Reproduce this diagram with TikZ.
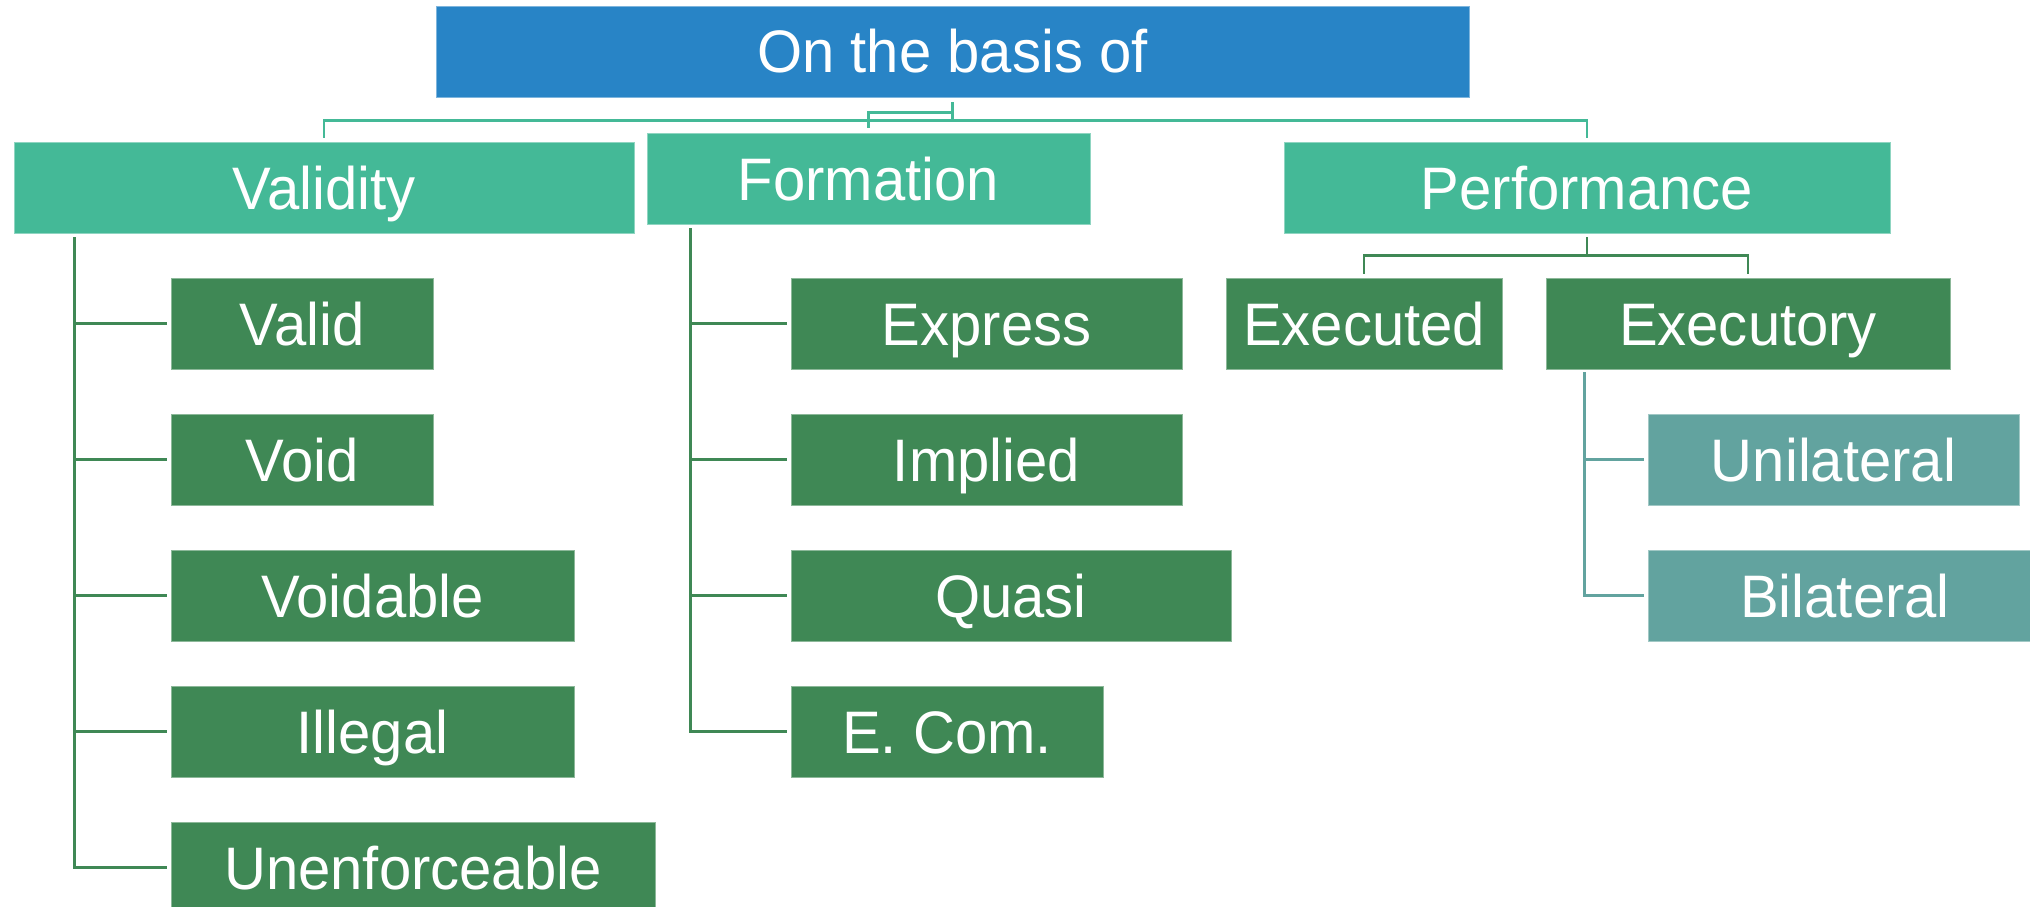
\documentclass[tikz,border=0pt]{standalone}
\usepackage{fontspec}
\setmainfont{Liberation Sans}[FakeStretch=0.967]
\definecolor{topcol}{RGB}{40,132,198}
\definecolor{lonecol}{RGB}{68,185,151}
\definecolor{ltwocol}{RGB}{63,136,85}
\definecolor{lthreecol}{RGB}{98,163,159}
\tikzset{
  box/.style={inner sep=0pt, minimum height=91pt, text height=43pt, text depth=0pt,
    text=white, font=\fontsize{60}{60}\selectfont, line width=0.8pt},
  topbox/.style={box, fill=topcol, draw=topcol!60!white},
  lonebox/.style={box, fill=lonecol, draw=lonecol!60!white},
  ltwobox/.style={box, fill=ltwocol, draw=ltwocol!60!white},
  lthreebox/.style={box, fill=lthreecol, draw=lthreecol!60!white},
  czero/.style={draw=lonecol, line width=2.6pt},
  cone/.style={draw=ltwocol, line width=2.6pt},
  ctwo/.style={draw=lthreecol, line width=2.6pt},
}
\begin{document}
\begin{tikzpicture}[x=1pt,y=-1pt]
\useasboundingbox (0,0) rectangle (2030,907);
\clip (0,0) rectangle (2030,907);
% level 0
\node[topbox, minimum width=1033pt] (top) at (952.5,51.5) {On the basis of};
% level 1
\node[lonebox, minimum width=620pt] (validity) at (324,187.5) {Validity};
\node[lonebox, minimum width=443pt] (formation) at (868.5,178.5) {Formation};
\node[lonebox, minimum width=606pt] (performance) at (1587,187.5) {Performance};
% validity children
\node[ltwobox, minimum width=262pt] (valid) at (302,323.5) {Valid};
\node[ltwobox, minimum width=262pt] (void) at (302,459.5) {Void};
\node[ltwobox, minimum width=403pt] (voidable) at (372.5,595.5) {Voidable};
\node[ltwobox, minimum width=403pt] (illegal) at (372.5,731.5) {Illegal};
\node[ltwobox, minimum width=484pt] (unenf) at (413,867.5) {Unenforceable};
% formation children
\node[ltwobox, minimum width=391pt] (express) at (986.5,323.5) {Express};
\node[ltwobox, minimum width=391pt] (implied) at (986.5,459.5) {Implied};
\node[ltwobox, minimum width=440pt] (quasi) at (1011,595.5) {Quasi};
\node[ltwobox, minimum width=312pt] (ecom) at (947,731.5) {E. Com.};
% performance children
\node[ltwobox, minimum width=276pt] (executed) at (1364,323.5) {Executed};
\node[ltwobox, minimum width=404pt] (executory) at (1748,323.5) {Executory};
% executory children
\node[lthreebox, minimum width=371pt] (unilateral) at (1833.5,459.5) {Unilateral};
\node[lthreebox, minimum width=394pt] (bilateral) at (1845,595.5) {Bilateral};

% connectors level 0 -> 1
\draw[czero] ([yshift=-5pt]top.south) -- ([yshift=-23pt]top.south) -| ([yshift=4pt]validity.north);
\draw[czero] ([yshift=-5pt]top.south) -- ([yshift=-23pt]top.south) -| ([yshift=4pt]performance.north);
\draw[czero] ([yshift=-5pt]top.south) -- ([yshift=-15pt]top.south) -| ([yshift=5pt]formation.north);

% validity branch
\coordinate (vbase) at ([xshift=61pt,yshift=-4pt]validity.south west);
\foreach \n in {valid,void,voidable,illegal,unenf}
  \draw[cone] (vbase) |- ([xshift=-4pt]\n.west);
% formation branch
\coordinate (fbase) at ([xshift=44pt,yshift=-4pt]formation.south west);
\foreach \n in {express,implied,quasi,ecom}
  \draw[cone] (fbase) |- ([xshift=-4pt]\n.west);
% performance branch
\draw[cone] ([yshift=-4pt]performance.south) -- ([yshift=-22pt]performance.south) -| ([yshift=4pt]executed.north);
\draw[cone] ([yshift=-4pt]performance.south) -- ([yshift=-22pt]performance.south) -| ([yshift=4pt]executory.north);
% executory branch
\coordinate (ebase) at ([xshift=39pt,yshift=-3pt]executory.south west);
\foreach \n in {unilateral,bilateral}
  \draw[ctwo] (ebase) |- ([xshift=-4pt]\n.west);
\end{tikzpicture}
\end{document}
